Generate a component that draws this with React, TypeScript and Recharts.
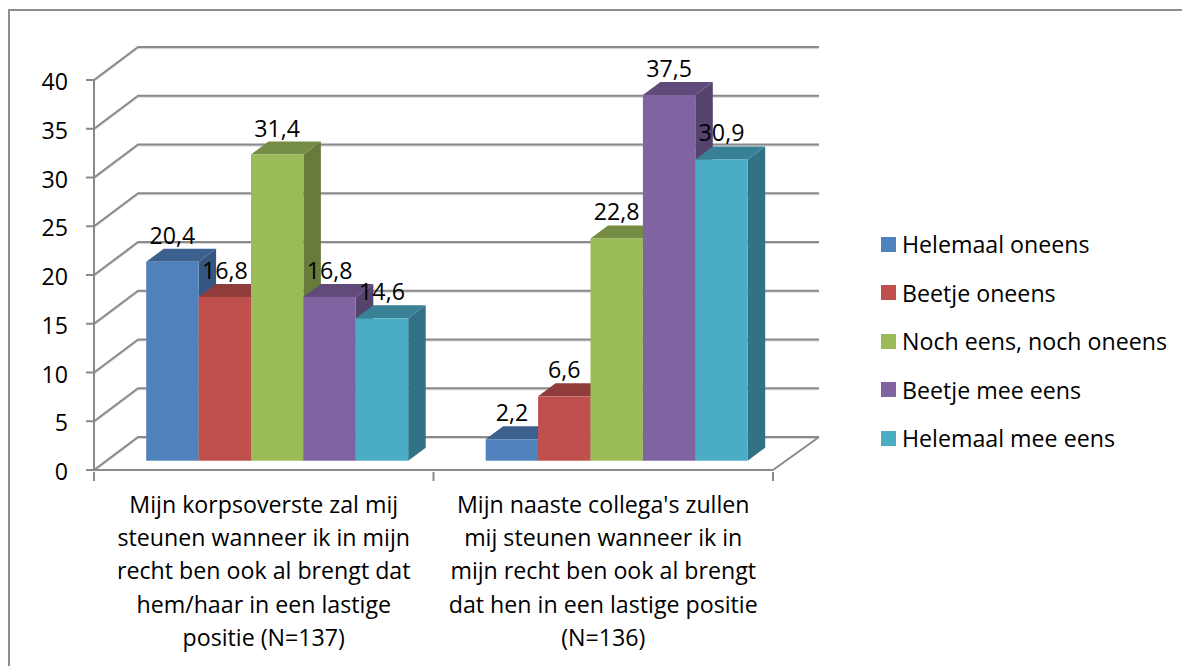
import React from 'react';
import { BarChart, Bar, XAxis, YAxis, CartesianGrid, Legend, LabelList } from 'recharts';

const categories = [
  'Mijn korpsoverste zal mij\nsteunen wanneer ik in mijn\nrecht ben ook al brengt dat\nhem/haar in een lastige\npositie (N=137)',
  "Mijn naaste collega's zullen\nmij steunen wanneer ik in\nmijn recht ben ook al brengt\ndat hen in een lastige positie\n(N=136)",
];
const seriesNames = ['Helemaal oneens', 'Beetje oneens', 'Noch eens, noch oneens', 'Beetje mee eens', 'Helemaal mee eens'];
const helemaalOneens = [20.4, 2.2];
const beetjeOneens = [16.8, 6.6];
const nochNoch = [31.4, 22.8];
const beetjeMee = [16.8, 37.5];
const helemaalMee = [14.6, 30.9];
const seriesValues = [helemaalOneens, beetjeOneens, nochNoch, beetjeMee, helemaalMee];
const yTicks = [0, 5, 10, 15, 20, 25, 30, 35, 40];

// front, top, side
const colors = [
  ['#4F81BD', '#3C618E', '#35567E'],
  ['#C0504D', '#903C3A', '#803533'],
  ['#9BBB59', '#748C43', '#677C3B'],
  ['#8064A2', '#604B7A', '#55436C'],
  ['#4BACC6', '#388195', '#327284'],
];

const FONT = '"Open Sans", sans-serif';
const FONT_SIZE = 23.2;
const GRID = '#8A8A8A';

// how far the floor/wall runs back
const WALL_DX = 45;
const WALL_DY = 33;
// bars stand partway back on the floor
const BAR_DX = 13.2;
const BAR_DY = 9.3;
// depth of a bar
const DEPTH_X = 17.5;
const DEPTH_Y = 13;

const data = categories.map((name, i) => {
  const row: Record<string, any> = { name };
  seriesNames.forEach((s, j) => {
    row[s] = seriesValues[j][i];
  });
  return row;
});

const GridLine = (props: any) => {
  const { x1, x2, y1, index } = props;
  const isFloor = Math.abs(y1 - 470) < 1;
  return (
    <g key={index} fill="none" strokeLinejoin="round">
      <polyline
        points={`${x1},${y1 + 1} ${x1 + WALL_DX - 1},${y1 - WALL_DY + 1} ${x2 + WALL_DX + 1},${y1 - WALL_DY + 1}`}
        stroke="#D6D6D6"
        strokeWidth={2}
      />
      <polyline
        points={`${x1},${y1} ${x1 + WALL_DX - 1},${y1 - WALL_DY} ${x2 + WALL_DX + 1},${y1 - WALL_DY}`}
        stroke={GRID}
        strokeWidth={2}
      />
      {isFloor && <line x1={x2} y1={y1} x2={x2 + WALL_DX + 1} y2={y1 - WALL_DY} stroke={GRID} strokeWidth={2} />}
    </g>
  );
};

const Bar3D = (props: any) => {
  const { x, y, width, height, shade } = props;
  const l = x + BAR_DX;
  const r = l + width;
  const t = y - BAR_DY;
  const b = t + height;
  return (
    <g>
      <polygon
        points={`${r},${t} ${r + DEPTH_X},${t - DEPTH_Y} ${r + DEPTH_X},${b - DEPTH_Y} ${r},${b}`}
        fill={shade[2]}
      />
      <polygon
        points={`${l},${t} ${l + DEPTH_X},${t - DEPTH_Y} ${r + DEPTH_X},${t - DEPTH_Y} ${r},${t}`}
        fill={shade[1]}
      />
      <rect x={l} y={t} width={width} height={height} fill={shade[0]} />
    </g>
  );
};

const ValueLabel = (props: any) => {
  const { x, y, width, value } = props;
  return (
    <text
      x={x + width / 2 + BAR_DX}
      y={y - BAR_DY - 18}
      textAnchor="middle"
      fontFamily={FONT}
      fontSize={FONT_SIZE}
      fill="#000"
    >
      {String(value).replace('.', ',')}
    </text>
  );
};

// Excel puts the ticks between the categories, so they are drawn here
const CategoryTick = (props: any) => {
  const { x, y, width, index, payload } = props;
  const half = width / categories.length / 2;
  return (
    <g>
      <line x1={x - half} y1={y} x2={x - half} y2={y + 9} stroke={GRID} strokeWidth={2} />
      {index === categories.length - 1 && (
        <line x1={x + half} y1={y} x2={x + half} y2={y + 9} stroke={GRID} strokeWidth={2} />
      )}
      <text textAnchor="middle" fontFamily={FONT} fontSize={FONT_SIZE} fill="#000">
        {String(payload.value)
          .split('\n')
          .map((line, i) => (
            <tspan key={i} x={x} y={y + 40.5 + i * 33.4}>
              {line}
            </tspan>
          ))}
      </text>
    </g>
  );
};

const LegendBox = ({ payload }: any) => (
  <div style={{ fontFamily: FONT, fontSize: FONT_SIZE, color: '#000' }}>
    {(payload || []).map((item: any) => (
      <div key={item.value} style={{ display: 'flex', alignItems: 'center', height: 48.5, whiteSpace: 'nowrap' }}>
        <span style={{ width: 15, height: 15, background: item.color, marginRight: 6, flex: 'none' }} />
        {item.value}
      </div>
    ))}
  </div>
);

const App = () => (
  <div style={{ position: 'fixed', left: 0, top: 0, width: 1182, height: 666, background: '#fff', overflow: 'hidden' }}>
    <div
      style={{
        position: 'absolute',
        left: 8,
        top: 9,
        width: 1300,
        height: 800,
        border: '2px solid #8E8E8E',
        boxSizing: 'border-box',
      }}
    />
    <BarChart
      width={1182}
      height={666}
      data={data}
      margin={{ top: 80, right: 409, bottom: 0, left: 0 }}
      barSize={52.4}
      barGap={0}
      style={{ position: 'absolute', left: 0, top: 0 }}
    >
      <CartesianGrid vertical={false} horizontal={GridLine} />
      <XAxis
        dataKey="name"
        height={196}
        tick={CategoryTick}
        tickSize={0}
        tickLine={false}
        axisLine={{ stroke: GRID, strokeWidth: 2 }}
        interval={0}
      />
      <YAxis
        width={94}
        domain={[0, 40]}
        ticks={yTicks}
        tickSize={8}
        tickMargin={18}
        tickLine={{ stroke: GRID, strokeWidth: 2 }}
        axisLine={{ stroke: GRID, strokeWidth: 2 }}
        tick={{ fontFamily: FONT, fontSize: FONT_SIZE, fill: '#000', dy: 2 }}
      />
      <Legend
        layout="vertical"
        align="center"
        verticalAlign="middle"
        itemSorter={null}
        content={LegendBox}
        wrapperStyle={{ left: 881, top: 220, width: 295 }}
      />
      {seriesNames.map((name, i) => (
        <Bar
          key={name}
          dataKey={name}
          fill={colors[i][0]}
          isAnimationActive={false}
          shape={(p: any) => <Bar3D {...p} shade={colors[i]} />}
        >
          <LabelList dataKey={name} content={ValueLabel} />
        </Bar>
      ))}
    </BarChart>
  </div>
);

export default App;
